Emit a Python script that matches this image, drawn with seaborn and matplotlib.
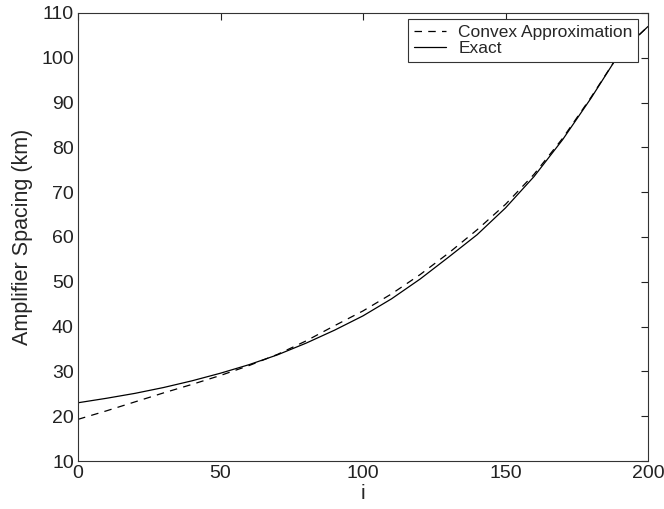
import pandas as pd
import matplotlib.pyplot as plt
import seaborn as sns

# values
i_vals = [0, 10, 20, 30, 40, 50, 60, 70, 80, 90, 100,
          110, 120, 130, 140, 150, 160, 170, 180, 190, 200]
convex = [19.3, 21.2, 23.2, 25.2, 27.1, 29.1, 31.3, 33.8, 36.8, 40.2, 43.5,
          47.3, 51.6, 56.4, 61.6, 67.3, 74.0, 82.0, 91.2, 101.0, 107.0]
exact = [23.0, 24.0, 25.1, 26.4, 27.9, 29.6, 31.5, 33.7, 36.3, 39.2, 42.4,
         46.2, 50.6, 55.5, 60.5, 66.5, 73.5, 81.7, 91.0, 101.0, 107.0]

df = pd.DataFrame({"i": i_vals, "convex": convex, "exact": exact})

sns.set_style("white")
plt.rcParams['font.family'] = ['Liberation Sans', 'DejaVu Sans']

fig = plt.figure(figsize=(6.64, 5.09), dpi=100)
ax = fig.add_axes([0.1175, 0.0943, 0.8585, 0.8802])

sns.lineplot(data=df, x="i", y="convex", ax=ax, color="black", lw=0.9,
             linestyle=(0, (6, 5)), label="Convex Approximation")
sns.lineplot(data=df, x="i", y="exact", ax=ax, color="black", lw=0.9,
             label="Exact")

ax.set_xlim(0, 200)
ax.set_ylim(10, 110)
ax.set_xticks([0, 50, 100, 150, 200])
ax.set_yticks(range(10, 111, 10))
ax.set_xlabel("i", fontsize=15, labelpad=1)
ax.set_ylabel("Amplifier Spacing (km)", fontsize=15.5)
ax.yaxis.set_label_coords(-0.079, 0.5)
ax.tick_params(direction="in", length=5, width=0.8, labelsize=14,
               top=True, right=True, colors="#222222", pad=3)
for s in ax.spines.values():
    s.set_color("#333333")
    s.set_linewidth(0.8)

leg = ax.legend(loc="upper right", bbox_to_anchor=(0.9825, 0.986),
                fontsize=12.5, frameon=True, fancybox=False,
                edgecolor="#333333", borderaxespad=0, handlelength=1.85,
                borderpad=0.32, labelspacing=0.05, handletextpad=0.7)
leg.get_frame().set_linewidth(0.8)
leg.get_frame().set_alpha(1)

fig.savefig("out.png", dpi=100)
